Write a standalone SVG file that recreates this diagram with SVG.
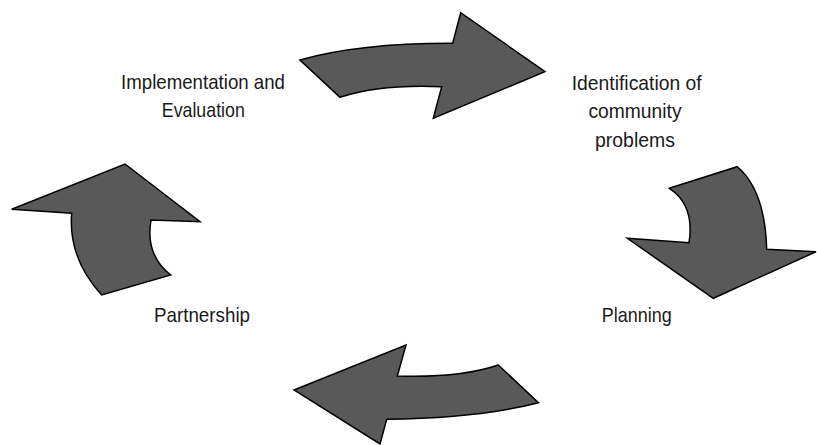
<svg xmlns="http://www.w3.org/2000/svg" width="817" height="445" viewBox="0 0 817 445">
<style>
.arrow{fill:#595959;stroke:#000;stroke-width:1.5;stroke-linejoin:miter}
.lbl{font-family:"Liberation Sans",Arial,sans-serif;font-size:21px;fill:#1a1a1a;text-anchor:middle}
</style>
<rect width="817" height="445" fill="#fff"/>
<g id="connectors">
<path id="arrow-top" class="arrow" d="M300,60 Q360,43 452.7,43.3 L460.7,12.7 L545,71.7 L433.3,118.3 L441.7,86.7 Q380,84 340,97.3 Z"/>
<path id="arrow-right" class="arrow" d="M669.3,188.3 L737.3,166.7 Q765,190 766.7,249.3 L816,251.7 L713.3,298.3 L627.3,238.3 L689,242.7 Q695,205 669.3,188.3 Z"/>
<path id="arrow-bottom" class="arrow" d="M294,390 L406,345 L397.3,376 Q460,378 498.3,365 L538.3,402.7 Q480,418 386.7,419.3 L380,444 Z"/>
<path id="arrow-left" class="arrow" d="M125,164 L200,221.7 L151,220 Q145,255 170.7,275 L101.7,295 Q68,258 71.7,213.3 L11.7,209.3 Z"/>
</g>
<g id="node-implementation">
<text class="lbl" x="203" y="88.5" textLength="164" lengthAdjust="spacingAndGlyphs">Implementation and</text>
<text class="lbl" x="203.3" y="116.7" textLength="83" lengthAdjust="spacingAndGlyphs">Evaluation</text>
</g>
<g id="node-identification">
<text class="lbl" x="636.7" y="90" textLength="130" lengthAdjust="spacingAndGlyphs">Identification of</text>
<text class="lbl" x="635" y="118.3" textLength="93" lengthAdjust="spacingAndGlyphs">community</text>
<text class="lbl" x="635" y="146.7" textLength="80" lengthAdjust="spacingAndGlyphs">problems</text>
</g>
<g id="node-planning">
<text class="lbl" x="636.7" y="321.7" textLength="70" lengthAdjust="spacingAndGlyphs">Planning</text>
</g>
<g id="node-partnership">
<text class="lbl" x="202" y="322" textLength="96" lengthAdjust="spacingAndGlyphs">Partnership</text>
</g>
</svg>
